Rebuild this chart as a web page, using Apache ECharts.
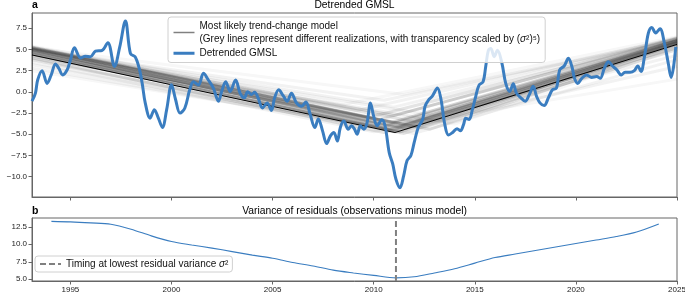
<!DOCTYPE html>
<html>
<head>
<meta charset="utf-8">
<script src="https://cdn.jsdelivr.net/npm/echarts@6/dist/echarts.min.js"></script>
<style>
  html, body { margin: 0; padding: 0; background: #fff; }
  #chart { width: 685px; height: 292px; }
</style>
</head>
<body>
<div id="chart"></div>
<script>
// x range (years)
var xMin = 1993.1
var xMax = 2025
var xTicks = [1995, 2000, 2005, 2010, 2015, 2020, 2025]

// top panel: detrended GMSL (mm)
var gmslYears = [1993.10, 1993.27, 1993.38, 1993.60, 1993.85, 1994.05, 1994.26, 1994.42, 1994.62, 1994.84,
  1995.00, 1995.20, 1995.50, 1995.74, 1995.99, 1996.24, 1996.57, 1996.85, 1997.18, 1997.44,
  1997.72, 1997.97, 1998.20, 1998.40, 1998.55, 1998.70, 1998.94, 1999.15, 1999.35, 1999.55,
  1999.76, 2000.00, 2000.20, 2000.42, 2000.66, 2000.90, 2001.08, 2001.33, 2001.58, 2001.82,
  2002.07, 2002.32, 2002.48, 2002.68, 2002.90, 2003.17, 2003.39, 2003.60, 2003.77, 2003.95,
  2004.11, 2004.28, 2004.50, 2004.73, 2004.94, 2005.10, 2005.30, 2005.52, 2005.72, 2005.93,
  2006.18, 2006.43, 2006.65, 2006.84, 2007.09, 2007.26, 2007.47, 2007.67, 2007.86, 2008.03,
  2008.20, 2008.35, 2008.52, 2008.74, 2008.90, 2009.05, 2009.18, 2009.34, 2009.51, 2009.67,
  2009.84, 2010.00, 2010.17, 2010.40, 2010.56, 2010.77, 2010.94, 2011.10, 2011.30, 2011.48,
  2011.65, 2011.84, 2012.00, 2012.20, 2012.42, 2012.54, 2012.70, 2012.90, 2013.15, 2013.33,
  2013.50, 2013.70, 2013.90, 2014.12, 2014.29, 2014.45, 2014.55, 2014.72, 2014.88, 2015.05,
  2015.21, 2015.41, 2015.54, 2015.67, 2015.79, 2015.96, 2016.12, 2016.34, 2016.53, 2016.73,
  2016.90, 2017.06, 2017.28, 2017.49, 2017.69, 2017.89, 2018.05, 2018.22, 2018.43, 2018.64,
  2018.84, 2019.04, 2019.20, 2019.42, 2019.63, 2019.81, 2019.93, 2020.09, 2020.29, 2020.53,
  2020.78, 2021.03, 2021.20, 2021.41, 2021.61, 2021.81, 2022.02, 2022.24, 2022.43, 2022.68,
  2022.89, 2023.06, 2023.22, 2023.39, 2023.58, 2023.75, 2023.95, 2024.16, 2024.38, 2024.57,
  2024.71, 2024.82, 2024.94]
var gmslValues = [-1.1, -0.14, 1.4, 2.5, 1.0, 2.0, 3.3, 2.8, 2.0, 2.6,
  3.75, 5.2, 4.0, 4.2, 4.15, 4.8, 4.9, 5.8, 3.0, 5.3,
  8.36, 4.5, 4.15, 2.8, 1.0, -1.3, -3.1, -2.1, -3.1, -4.2,
  -2.1, 0.83, -0.9, -2.5, -1.9, 0.25, 1.2, 0.8, 2.2, 1.4,
  0.45, -1.1, 0.05, 1.2, 0.05, 1.4, -0.15, -0.7, 0.0, -0.3,
  -0.05, -0.7, -1.9, -1.3, -2.2, -0.7, 0.25, -0.45, -1.1, -0.15,
  -1.3, -1.7, -1.2, -2.5, -4.2, -3.2, -4.6, -6.1, -5.2, -4.8,
  -5.8, -4.2, -3.45, -4.4, -4.0, -4.4, -5.0, -4.0, -4.4, -3.65,
  -1.3, -2.9, -4.0, -3.3, -4.0, -7.2, -8.5, -10.3, -11.3, -9.9,
  -8.1, -7.5, -6.0, -4.2, -3.25, -1.7, -1.0, -0.5, 0.45, -0.9,
  -3.65, -5.1, -4.8, -4.35, -4.6, -3.8, -3.1, -3.25, -2.1, -0.5,
  0.8, 1.2, 3.0, 4.9, 5.1, 4.15, 4.9, 3.4, 1.0, 0.05,
  0.95, -0.15, -0.7, -1.1, -0.35, 0.65, -0.5, -1.3, -1.6, -0.7,
  0.25, 0.45, 2.6, 3.05, 3.95, 2.9, 1.6, 1.0, 1.6, 2.0,
  1.7, 1.8, 1.6, 2.8, 3.55, 3.05, 2.6, 2.0, 2.3, 2.3,
  2.5, 3.05, 2.4, 4.15, 6.9, 7.6, 6.95, 7.45, 5.7, 3.35,
  1.7, 2.8, 5.3]

// most likely trend-change model (start, change point, end)
var modelYears = [1993.1, 2011.05, 2025]
var modelValues = [4.35, -4.8, 5.6]

// grey realizations: start value, change year, change value, end value, opacity
var realStart = [4.5, 4.7, 4.9, 5.0, 5.1, 4.4, 4.8, 5.2,
  5.2, 5.0, 4.6, 5.3, 4.2, 5.1, 4.0, 3.8,
  5.3, 4.8, 5.1, 3.5, 3.2, 5.0, 4.4, 2.8,
  5.2, 2.5, 5.4, 4.0]
var realChangeYear = [2011.0, 2010.8, 2011.2, 2010.6, 2011.4, 2011.3, 2011.6, 2010.9,
  2010.2, 2012.0, 2012.3, 2009.8, 2012.8, 2011.0, 2010.5, 2011.5,
  2009.2, 2013.0, 2011.0, 2010.0, 2012.0, 2010.5, 2013.5, 2011.0,
  2011.5, 2010.5, 2008.5, 2014.0]
var realChangeValue = [-4.6, -4.4, -4.2, -4.0, -3.8, -4.7, -4.3, -3.6,
  -3.3, -3.5, -4.2, -3.0, -4.4, -2.8, -4.8, -4.9,
  -2.2, -2.8, -1.8, -4.7, -4.9, -1.0, -3.5, -4.6,
  -0.3, -4.2, -1.5, -3.8]
var realEnd = [5.7, 5.8, 5.9, 6.0, 6.0, 5.6, 5.8, 6.1,
  6.2, 6.1, 5.7, 6.3, 5.4, 6.3, 5.2, 5.0,
  6.4, 6.0, 6.4, 4.3, 3.8, 6.2, 5.6, 3.0,
  6.0, 1.5, 6.5, 5.2]
var realOpacity = [0.2, 0.2, 0.2, 0.2, 0.2, 0.2, 0.2, 0.2,
  0.12, 0.12, 0.12, 0.12, 0.12, 0.12, 0.12, 0.12,
  0.06, 0.06, 0.06, 0.06, 0.06, 0.06, 0.06, 0.06,
  0.035, 0.035, 0.035, 0.035]

// top panel tick values
var topTicks = [-10, -7.5, -5, -2.5, 0, 2.5, 5, 7.5]

// bottom panel: variance of residuals (mm^2)
var varYears = [1994.06, 1995, 1996, 1997, 1998, 1999, 2000, 2001, 2002, 2003, 2004, 2005, 2006, 2007, 2008,
  2009, 2010, 2011.1, 2012, 2013, 2014, 2015, 2016, 2017, 2018, 2019, 2020, 2021, 2022, 2023, 2024.1]
var varValues = [13.27, 13.2, 13.05, 12.85, 12.15, 11.2, 10.4, 9.9, 9.45, 8.95, 8.45, 8.0, 7.4, 6.9, 6.3,
  5.9, 5.55, 5.2, 5.35, 5.9, 6.5, 7.3, 8.1, 8.6, 9.1, 9.6, 10.1, 10.6, 11.1, 11.75, 12.9]
var bottomTicks = [5, 7.5, 10, 12.5]
var lowestTiming = 2011.1

var blue = '#3a7dc0'
var frame = '#666'
var font = '"Liberation Sans", Arial, sans-serif'

function pairs (xs, ys) {
  return xs.map(function (x, i) { return [x, ys[i]] })
}
function fmt (v) {
  return v.toFixed(1).replace('-', '\u2212')
}

var chart = echarts.init(document.getElementById('chart'), null, { renderer: 'canvas' })

var series = []
// grey realization lines
realStart.forEach(function (s, i) {
  series.push({
    type: 'line',
    xAxisIndex: 0,
    yAxisIndex: 0,
    silent: true,
    symbol: 'none',
    data: [[xMin, s], [realChangeYear[i], realChangeValue[i]], [xMax, realEnd[i]]],
    lineStyle: { color: '#222', width: 3, opacity: realOpacity[i] },
    z: 1
  })
})
series.push({
  name: 'Most likely trend-change model',
  type: 'line',
  xAxisIndex: 0,
  yAxisIndex: 0,
  symbol: 'none',
  data: pairs(modelYears, modelValues),
  lineStyle: { color: '#000', width: 1 },
  z: 2
})
series.push({
  name: 'Detrended GMSL',
  type: 'line',
  xAxisIndex: 0,
  yAxisIndex: 0,
  symbol: 'none',
  smooth: 0.35,
  data: pairs(gmslYears, gmslValues),
  lineStyle: { color: blue, width: 3 },
  itemStyle: { color: blue },
  z: 3
})
series.push({
  name: 'variance',
  type: 'line',
  xAxisIndex: 1,
  yAxisIndex: 1,
  symbol: 'none',
  smooth: 0.3,
  data: pairs(varYears, varValues),
  lineStyle: { color: blue, width: 1.1 },
  z: 2
})
series.push({
  name: 'Timing at lowest residual variance \u03c3\u00b2',
  type: 'line',
  xAxisIndex: 1,
  yAxisIndex: 1,
  symbol: 'none',
  data: [[lowestTiming, 4.75], [lowestTiming, 13.75]],
  lineStyle: { color: '#808080', width: 2, type: [6, 3] },
  itemStyle: { color: '#808080' },
  z: 3
})

var axisCommon = {
  axisLine: { show: true, onZero: false, lineStyle: { color: frame, width: 1 } },
  splitLine: { show: false }
}

var legendCommon = {
  orient: 'vertical',
  bottom: 'auto',
  itemWidth: 21,
  itemHeight: 10,
  selectedMode: false,
  backgroundColor: 'rgba(255,255,255,0.82)',
  borderColor: '#d0d0d0',
  borderWidth: 1,
  borderRadius: 3,
  // hide the marker circle, keep only the line handle
  itemStyle: { opacity: 0 }
}

var option = {
  animation: false,
  backgroundColor: '#fff',
  textStyle: { fontFamily: font },
  title: [
    { text: 'a', left: 32, top: 0, padding: 0, textStyle: { fontSize: 10.5, fontWeight: 'bold', color: '#000', fontFamily: font } },
    { text: 'Detrended GMSL', left: 354.5, textAlign: 'center', top: 0, padding: 0, textStyle: { fontSize: 10.3, fontWeight: 'normal', color: '#000', fontFamily: font } },
    { text: 'b', left: 32, top: 206, padding: 0, textStyle: { fontSize: 10.5, fontWeight: 'bold', color: '#000', fontFamily: font } },
    { text: 'Variance of residuals (observations minus model)', left: 354.5, textAlign: 'center', top: 206, padding: 0, textStyle: { fontSize: 10.3, fontWeight: 'normal', color: '#000', fontFamily: font } }
  ],
  grid: [
    { left: 32, right: 8, top: 13, height: 184, show: true, borderColor: frame, borderWidth: 1, containLabel: false, outerBoundsMode: 'none' },
    { left: 32, right: 8, top: 218, height: 63, show: true, borderColor: frame, borderWidth: 1, containLabel: false, outerBoundsMode: 'none' }
  ],
  legend: [
    Object.assign({}, legendCommon, {
      id: 'legendTop',
      left: 168,
      top: 17,
      padding: [3, 5, 3, 4],
      itemGap: 2,
      data: [
        { name: 'Most likely trend-change model', lineStyle: { color: '#808080', width: 1.5 } },
        { name: 'Detrended GMSL', lineStyle: { color: blue, width: 3 } }
      ],
      formatter: function (name) {
        if (name === 'Most likely trend-change model') {
          return name + '\n(Grey lines represent different realizations, with transparency scaled by ({it|\u03c3}\u00b2)\u2075)'
        }
        return name
      },
      textStyle: {
        fontSize: 10,
        lineHeight: 12.5,
        color: '#111',
        fontFamily: font,
        rich: { it: { fontStyle: 'italic', fontSize: 10, lineHeight: 12.5, fontFamily: font, color: '#111' } }
      }
    }),
    Object.assign({}, legendCommon, {
      id: 'legendBottom',
      left: 35,
      top: 256,
      padding: [3, 4, 3, 4],
      data: [
        { name: 'Timing at lowest residual variance \u03c3\u00b2', lineStyle: { color: '#808080', width: 2, type: [6, 3] } }
      ],
      formatter: function () {
        return 'Timing at lowest residual variance {it|\u03c3}\u00b2'
      },
      textStyle: {
        fontSize: 10,
        color: '#111',
        fontFamily: font,
        rich: { it: { fontStyle: 'italic', fontSize: 10, fontFamily: font, color: '#111' } }
      }
    })
  ],
  xAxis: [
    Object.assign({}, axisCommon, {
      gridIndex: 0,
      type: 'value',
      min: xMin,
      max: xMax,
      axisTick: { show: true, length: 3.5, lineStyle: { color: frame }, customValues: xTicks },
      axisLabel: { show: false, customValues: xTicks }
    }),
    Object.assign({}, axisCommon, {
      gridIndex: 1,
      type: 'value',
      min: xMin,
      max: xMax,
      axisTick: { show: true, length: 3.5, lineStyle: { color: frame }, customValues: xTicks },
      axisLabel: { show: true, customValues: xTicks, fontSize: 8, color: '#222', margin: 5, fontFamily: font, hideOverlap: false, showMaxLabel: true, formatter: function (v) { return String(v) } }
    })
  ],
  yAxis: [
    Object.assign({}, axisCommon, {
      gridIndex: 0,
      type: 'value',
      min: -12.4,
      max: 9.3,
      name: 'mm',
      nameLocation: 'middle',
      nameGap: 21,
      nameTextStyle: { fontSize: 9.5, color: '#111', fontFamily: font },
      axisTick: { show: true, length: 3.5, lineStyle: { color: frame }, customValues: topTicks },
      axisLabel: { customValues: topTicks, fontSize: 8, color: '#222', margin: 5, fontFamily: font, showMaxLabel: true, formatter: fmt }
    }),
    Object.assign({}, axisCommon, {
      gridIndex: 1,
      type: 'value',
      min: 4.75,
      max: 13.75,
      name: 'mm\u00b2',
      nameLocation: 'middle',
      nameGap: 21,
      nameTextStyle: { fontSize: 9.5, color: '#111', fontFamily: font },
      axisTick: { show: true, length: 3.5, lineStyle: { color: frame }, customValues: bottomTicks },
      axisLabel: { customValues: bottomTicks, fontSize: 8, color: '#222', margin: 5, fontFamily: font, formatter: fmt }
    })
  ],
  series: series
}

chart.setOption(option)
</script>
</body>
</html>
